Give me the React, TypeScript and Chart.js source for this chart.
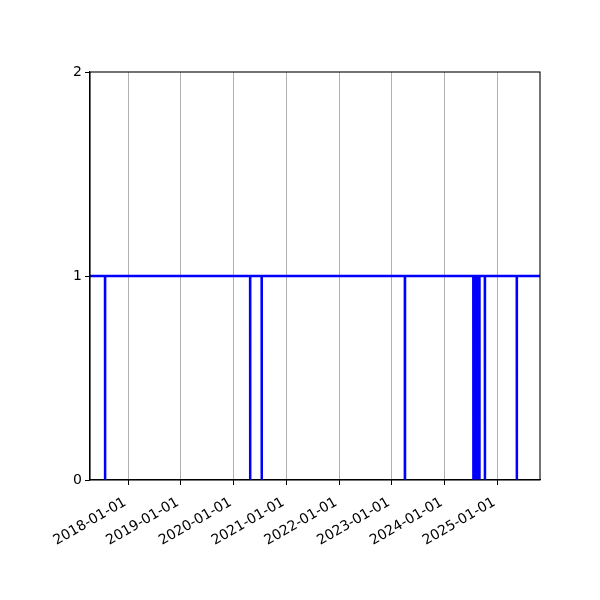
import React, { useEffect, useRef } from "react";
import { Chart, registerables } from "chart.js";

Chart.register(...registerables);

// Range of the series (first and last day)
const startDate = "2017-04-11";
const endDate = "2025-10-23";

// Days on which the value drops from 1 to 0
const dropDates = [
  "2017-07-24",
  "2020-04-24",
  "2020-07-13",
  "2023-04-01",
  "2024-07-18",
  "2024-07-24",
  "2024-07-30",
  "2024-08-05",
  "2024-08-11",
  "2024-08-17",
  "2024-08-23",
  "2024-08-29",
  "2024-10-06",
  "2025-05-15",
];

// Normal value and dropped value
const highValue = 1;
const lowValue = 0;

// Tick labels
const xTickLabels = [
  "2018-01-01",
  "2019-01-01",
  "2020-01-01",
  "2021-01-01",
  "2022-01-01",
  "2023-01-01",
  "2024-01-01",
  "2025-01-01",
];
const yTickValues = [0, 1, 2];

const DAY = 86400000;
const ts = (s: string) => Date.parse(s + "T00:00:00Z");
const fmt = (v: number) => new Date(v).toISOString().slice(0, 10);

export default function App() {
  const ref = useRef<HTMLCanvasElement>(null);

  useEffect(() => {
    if (!ref.current) return;
    const pts: { x: number; y: number }[] = [{ x: ts(startDate), y: highValue }];
    dropDates.forEach((d) => {
      const t = ts(d);
      pts.push({ x: t, y: highValue });
      pts.push({ x: t, y: lowValue });
      pts.push({ x: t + DAY, y: lowValue });
      pts.push({ x: t + DAY, y: highValue });
    });
    pts.push({ x: ts(endDate), y: highValue });

    const frame = {
      id: "frame",
      afterDatasetsDraw(chart: any) {
        const { ctx, chartArea } = chart;
        ctx.save();
        ctx.strokeStyle = "#000";
        ctx.lineWidth = 1.1;
        ctx.strokeRect(
          chartArea.left,
          chartArea.top,
          chartArea.right - chartArea.left,
          chartArea.bottom - chartArea.top
        );
        ctx.restore();
      },
    };

    const chart = new Chart(ref.current, {
      type: "line",
      data: {
        datasets: [
          {
            data: pts,
            borderColor: "#0000ff",
            borderWidth: 2.5,
            pointRadius: 0,
            fill: false,
            tension: 0,
            borderJoinStyle: "miter",
            borderCapStyle: "butt",
          },
        ],
      },
      options: {
        animation: false,
        responsive: false,
        devicePixelRatio: 1,
        parsing: false,
        layout: { padding: { left: 0, top: 72, right: 60, bottom: 0 } },
        plugins: { legend: { display: false }, tooltip: { enabled: false } },
        scales: {
          x: {
            type: "linear",
            min: ts(startDate),
            max: ts(endDate),
            afterBuildTicks: (scale: any) => {
              scale.ticks = xTickLabels.map((l) => ({ value: ts(l) }));
            },
            afterFit: (scale: any) => {
              scale.height = 120;
            },
            ticks: {
              callback: (v: any) => fmt(Number(v)),
              minRotation: 30,
              maxRotation: 30,
              autoSkip: false,
              color: "#000",
              padding: 9,
              labelOffset: -3,
              font: { family: "DejaVu Sans", size: 14 },
            },
            grid: {
              color: "#b0b0b0",
              lineWidth: 1,
              tickColor: "#000",
              tickLength: 5,
              drawTicks: true,
            },
            border: { display: true, color: "#000", width: 1.1 },
          },
          y: {
            type: "linear",
            min: 0,
            max: 2,
            afterBuildTicks: (scale: any) => {
              scale.ticks = yTickValues.map((v) => ({ value: v }));
            },
            afterFit: (scale: any) => {
              scale.width = 90;
            },
            ticks: {
              color: "#000",
              padding: 3,
              font: { family: "DejaVu Sans", size: 14 },
            },
            grid: {
              color: "rgba(0,0,0,0)",
              tickColor: "#000",
              tickLength: 5,
            },
            border: { display: true, color: "#000", width: 1.1 },
          },
        },
      },
      plugins: [frame],
    } as any);
    return () => chart.destroy();
  }, []);

  return (
    <div style={{ position: "fixed", left: 0, top: 0, width: 600, height: 600, background: "#fff" }}>
      <canvas ref={ref} width={600} height={600} style={{ width: 600, height: 600 }} />
    </div>
  );
}
